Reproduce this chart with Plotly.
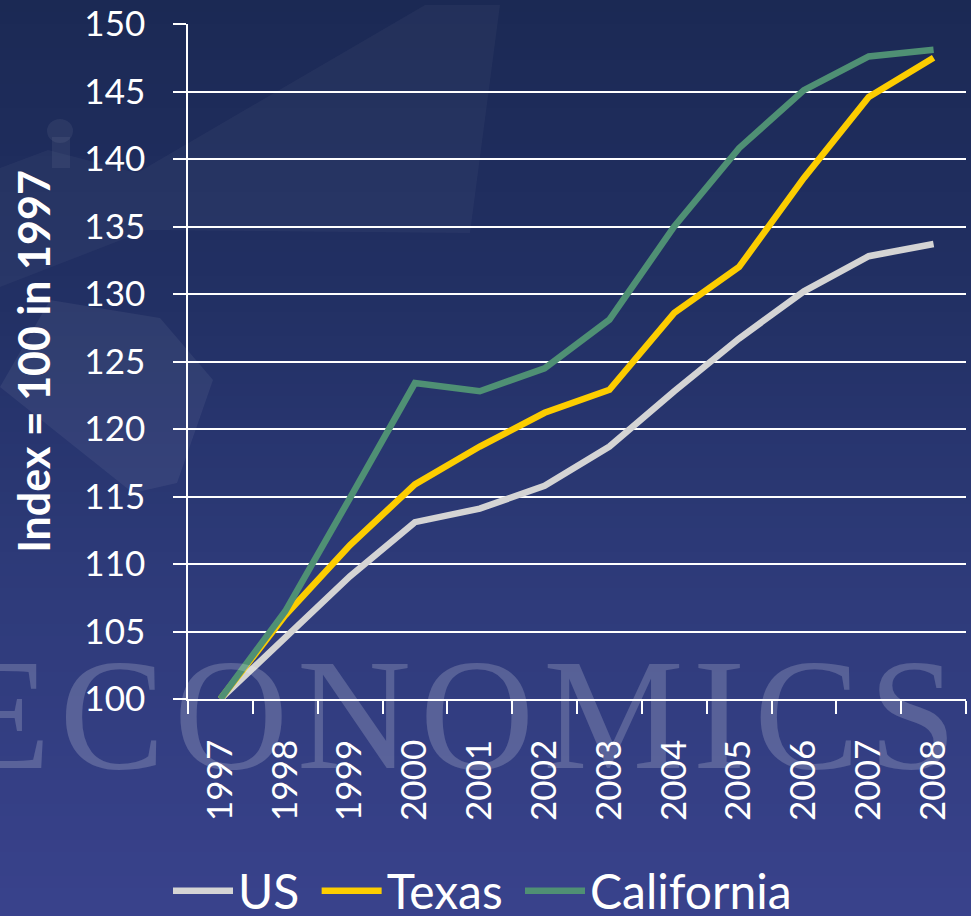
import plotly.graph_objects as go

# ---- data -------------------------------------------------------------
years = ["1997", "1998", "1999", "2000", "2001", "2002",
         "2003", "2004", "2005", "2006", "2007", "2008"]
us = [100, 104.5, 109.1, 113.1, 114.1, 115.8, 118.7, 122.8, 126.7, 130.2, 132.8, 133.7]
texas = [100, 106.2, 111.4, 115.9, 118.7, 121.2, 122.9, 128.6, 132.0, 138.6, 144.6, 147.5]
california = [100, 106.5, 114.9, 123.4, 122.8, 124.5, 128.1, 135.0, 140.8, 145.1, 147.6, 148.1]

series_names = ["US", "Texas", "California"]
series_colors = ["#d4d4d4", "#fccd00", "#4f9074"]
# a non-breaking space widens the gap after each legend entry
legend_pad = ["\u00a0", "\u00a0", ""]

# ---- figure geometry (pixels) -------------------------------------------
W, H = 971, 916
L, R, T, B = 188, 5, 24, 217
PW, PH = W - L - R, H - T - B


def px(x):
    return (x - L) / PW


def py(y):
    return (H - B - y) / PH


fig = go.Figure()
for name, pad, vals, col in zip(series_names, legend_pad,
                                [us, texas, california], series_colors):
    fig.add_trace(go.Scatter(
        x=years, y=vals, name=name + pad, mode="lines",
        line=dict(color=col, width=6.5),
        hovertemplate=name + ": %{y}<extra>%{x}</extra>",
    ))

# ---- background: vertical navy gradient ------------------------------
stops = [(0, (27, 41, 84)), (300, (34, 48, 100)), (560, (45, 58, 120)), (916, (57, 66, 140))]


def grad(y):
    for (y0, c0), (y1, c1) in zip(stops[:-1], stops[1:]):
        if y0 <= y <= y1:
            t = (y - y0) / (y1 - y0)
            return tuple(int(round(a + (b - a) * t)) for a, b in zip(c0, c1))
    return stops[-1][1]


shapes = []
step = 12
for y in range(0, H, step):
    r, g, b = grad(y + step / 2)
    shapes.append(dict(
        type="rect", xref="paper", yref="paper", layer="below",
        x0=px(0), x1=px(W), y0=py(y + step + 1), y1=py(y),
        fillcolor=f"rgb({r},{g},{b})", line=dict(width=0),
    ))


def poly(points, alpha):
    path = "M " + " L ".join(f"{px(x)},{py(y)}" for x, y in points) + " Z"
    return dict(type="path", xref="paper", yref="paper", layer="below", path=path,
                fillcolor=f"rgba(255,255,255,{alpha})", line=dict(width=0))


# faint building silhouette and light beam on the left
shapes.append(poly([(0, 168), (48, 150), (137, 173), (425, 5), (500, 5), (470, 233),
                    (147, 230), (0, 287)], 0.035))
shapes.append(poly([(0, 387), (50, 300), (160, 318), (213, 380), (177, 483), (133, 493)], 0.06))
shapes.append(poly([(52, 137), (70, 137), (70, 168), (52, 168)], 0.06))
shapes.append(dict(type="circle", xref="paper", yref="paper", layer="below",
                   x0=px(47), x1=px(73), y0=py(143), y1=py(119),
                   fillcolor="rgba(255,255,255,0.06)", line=dict(width=0)))

annotations = [
    dict(text="<span style='letter-spacing:9px'>ECONOMICS</span>",
         xref="paper", yref="paper", x=px(-48), y=py(714),
         xanchor="left", yanchor="middle", showarrow=False,
         font=dict(family="Liberation Serif", size=158, color="rgba(255,255,255,0.19)")),
]

fig.update_layout(
    width=W, height=H,
    margin=dict(l=L, r=R, t=T, b=B, autoexpand=False),
    paper_bgcolor="#1b2954",
    plot_bgcolor="rgba(0,0,0,0)",
    font=dict(family="Lato", color="white"),
    shapes=shapes,
    annotations=annotations,
    showlegend=True,
    legend=dict(
        orientation="h", x=px(168), xanchor="left", y=py(891), yanchor="middle",
        font=dict(size=48, color="white"), bgcolor="rgba(0,0,0,0)",
        itemwidth=60, traceorder="normal",
    ),
    xaxis=dict(
        type="category", range=[-0.5, 11.5], tickson="boundaries", ticks="outside",
        ticklen=13, tickcolor="white", tickwidth=1.5, showline=True, linecolor="white",
        linewidth=1.5, showgrid=False, tickangle=-90,
        tickfont=dict(size=35, color="white"), ticklabelstandoff=25,
        automargin=False,
    ),
    yaxis=dict(
        range=[100, 150], dtick=5, ticks="outside", ticklen=13, tickcolor="white",
        tickwidth=1.5, showline=True, linecolor="white", linewidth=1.5,
        showgrid=True, gridcolor="white", gridwidth=1.5,
        tickfont=dict(size=35, color="white"), ticklabelstandoff=21,
        title=dict(text="<b>Index = 100 in 1997</b>", font=dict(size=43, color="white"),
                   standoff=20),
        automargin=False,
    ),
)

fig.write_html("out.html")
